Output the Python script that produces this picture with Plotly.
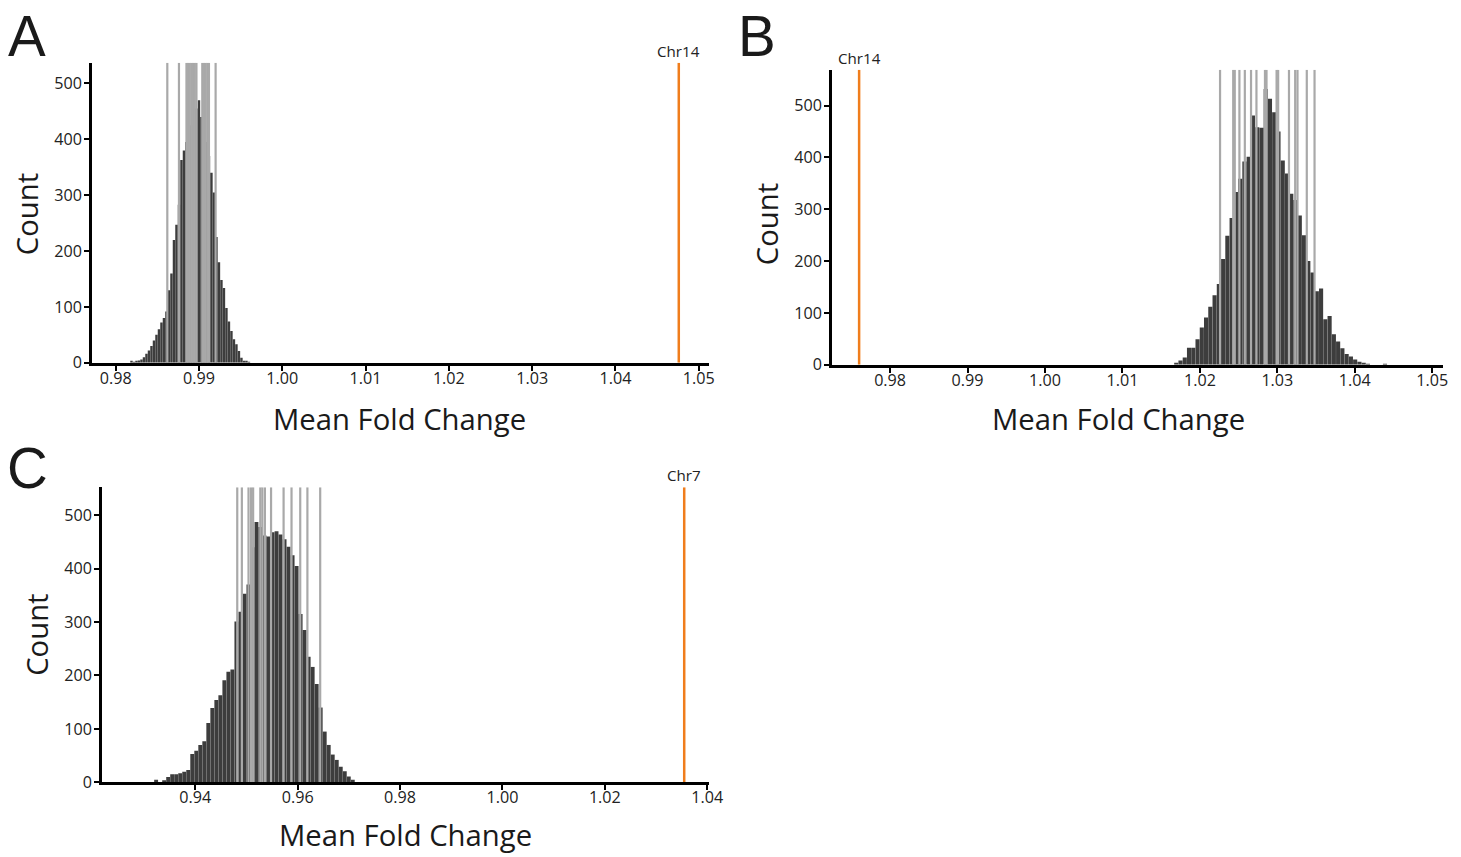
import plotly.graph_objects as go

W, H = 1461, 857
FONT = "Open Sans"
LETTER_FONT = "Liberation Sans"

# ---------------- data ----------------
# Panel A
a_bin_start = 0.98145
a_bin_width = 0.0003
a_counts = [0, 2, 1, 3, 4, 6, 10, 16, 22, 30, 40, 50, 60, 72, 80, 92, 130, 160, 220, 247,
            283, 363, 380, 395, 410, 425, 440, 455, 470, 440, 420, 395, 370, 340, 305, 225,
            180, 148, 134, 98, 74, 57, 42, 33, 21, 9, 3, 2, 1]
a_gray = [0.9862, 0.9876, 0.9885, 0.9887, 0.9889, 0.9891, 0.9893, 0.9895, 0.9897,
          0.9904, 0.9906, 0.9908, 0.9910, 0.9912, 0.9920]
a_orange = 1.0476
a_label = "Chr14"
a_xticks = [0.98, 0.99, 1.00, 1.01, 1.02, 1.03, 1.04, 1.05]

# Panel B
b_bin_start = 1.01667
b_bin_width = 0.00055
b_counts = [3, 8, 14, 33, 33, 49, 72, 91, 112, 134, 156, 204, 249, 283, 333, 359, 392, 401,
            481, 458, 457, 532, 513, 487, 450, 394, 369, 330, 318, 288, 250, 200, 178, 142,
            147, 88, 94, 59, 45, 32, 21, 16, 10, 6, 3, 1, 0, 0, 0, 1]
b_gray = [1.0226, 1.0243, 1.0245, 1.0251, 1.0258, 1.0266, 1.0273, 1.0284, 1.0286,
          1.0299, 1.0301, 1.0315, 1.0323, 1.0326, 1.0338, 1.0348]
b_orange = 0.9760
b_label = "Chr14"
b_xticks = [0.98, 0.99, 1.00, 1.01, 1.02, 1.03, 1.04, 1.05]

# Panel C
c_bin_start = 0.93196
c_bin_width = 0.000784
c_counts = [5, 0, 2, 10, 15, 15, 17, 20, 23, 53, 59, 70, 77, 111, 139, 154, 163, 191, 207, 211,
            301, 319, 353, 370, 440, 487, 478, 462, 460, 468, 470, 464, 455, 441, 425, 405,
            315, 285, 235, 216, 184, 140, 95, 70, 52, 42, 29, 21, 11, 5]
c_gray = [0.9482, 0.9491, 0.9504, 0.9509, 0.9513, 0.9527, 0.9531, 0.9536, 0.9548,
          0.95725, 0.9588, 0.9605, 0.9619, 0.9644]
c_orange = 1.0355
c_label = "Chr7"
c_xticks = [0.94, 0.96, 0.98, 1.00, 1.02, 1.04]

y_ticks = [0, 100, 200, 300, 400, 500]

# ---------------- layout geometry (target pixels) ----------------
K = 0.9905  # rendered picture comes out ~1% smaller; place things accordingly


def fx(px):
    return (px + 1.0) / K / W


def fy(py):
    return 1 - (py / K) / H


def fs(size):
    return size / K


panels = [
    dict(ax="", counts=a_counts, start=a_bin_start, bw=a_bin_width, gray=a_gray,
         orange=a_orange, label=a_label, xticks=a_xticks,
         xpx=(91, 708), ypx=(364, 63), xr=(0.97716, 1.05122), ytop=537,
         letter="A", letter_px=(26, 4), ytitle_px=(26, 215), xtitle_px=(399, 420)),
    dict(ax="2", counts=b_counts, start=b_bin_start, bw=b_bin_width, gray=b_gray,
         orange=b_orange, label=b_label, xticks=b_xticks,
         xpx=(831, 1442), ypx=(366, 70), xr=(0.97249, 1.05137), ytop=569,
         letter="B", letter_px=(756, 4), ytitle_px=(766, 225), xtitle_px=(1118, 420)),
    dict(ax="3", counts=c_counts, start=c_bin_start, bw=c_bin_width, gray=c_gray,
         orange=c_orange, label=c_label, xticks=c_xticks,
         xpx=(101, 708), ypx=(785, 489), xr=(0.92178, 1.04033), ytop=552,
         letter="C", letter_px=(27, 437), ytitle_px=(36, 637), xtitle_px=(405, 838)),
]

fig = go.Figure()
annotations = []
layout_axes = {}

for p in panels:
    xa = "x" + p["ax"]
    ya = "y" + p["ax"]
    centers = [p["start"] + p["bw"] * (i + 0.5) for i in range(len(p["counts"]))]
    fig.add_trace(go.Bar(x=centers, y=p["counts"], width=p["bw"] * 0.97,
                         marker=dict(color="#3d3d3d", line=dict(width=0)),
                         xaxis=xa, yaxis=ya, showlegend=False, hoverinfo="skip"))
    gx, gy = [], []
    for v in p["gray"]:
        gx += [v, v, None]
        gy += [0, p["ytop"], None]
    fig.add_trace(go.Scatter(x=gx, y=gy, mode="lines",
                             line=dict(color="#a9a9a9", width=2.2),
                             xaxis=xa, yaxis=ya, showlegend=False, hoverinfo="skip"))
    fig.add_trace(go.Scatter(x=[p["orange"], p["orange"]], y=[0, p["ytop"]], mode="lines",
                             line=dict(color="#f07d1c", width=2.5),
                             xaxis=xa, yaxis=ya, showlegend=False, hoverinfo="skip"))
    annotations.append(dict(x=p["orange"], y=p["ytop"], xref=xa, yref=ya, text=p["label"],
                            showarrow=False, yanchor="bottom", yshift=0,
                            font=dict(family=FONT, size=fs(15), color="#222")))

    common = dict(showline=True, linecolor="black", linewidth=2.5, ticks="outside",
                  ticklen=5, tickwidth=1.5, tickcolor="black", showgrid=False,
                  zeroline=False, tickfont=dict(family=FONT, size=fs(16), color="#222"),
                  fixedrange=True)
    xkey = "xaxis" + p["ax"]
    ykey = "yaxis" + p["ax"]
    layout_axes[xkey] = dict(common, domain=[fx(p["xpx"][0]), fx(p["xpx"][1])],
                             range=list(p["xr"]), tickvals=p["xticks"],
                             ticktext=[f"{v:.2f}" for v in p["xticks"]],
                             anchor=ya, ticklabelstandoff=-6)
    layout_axes[ykey] = dict(common, domain=[fy(p["ypx"][0]), fy(p["ypx"][1])],
                             range=[0, p["ytop"]], tickvals=y_ticks,
                             anchor=xa, ticklabelstandoff=-1)

    annotations.append(dict(x=fx(p["letter_px"][0]), y=fy(p["letter_px"][1]),
                            xref="paper", yref="paper", text=p["letter"], showarrow=False,
                            xanchor="center", yanchor="top", borderpad=0,
                            font=dict(family=LETTER_FONT, size=fs(56), color="#1a1a1a")))
    annotations.append(dict(x=fx(p["ytitle_px"][0]), y=fy(p["ytitle_px"][1]),
                            xref="paper", yref="paper", text="Count", showarrow=False,
                            textangle=-90, xanchor="center", yanchor="middle",
                            font=dict(family=FONT, size=fs(29), color="#1a1a1a")))
    annotations.append(dict(x=fx(p["xtitle_px"][0]), y=fy(p["xtitle_px"][1]),
                            xref="paper", yref="paper", text="Mean Fold Change",
                            showarrow=False, xanchor="center", yanchor="middle",
                            font=dict(family=FONT, size=fs(29), color="#1a1a1a")))

fig.update_layout(width=W, height=H, margin=dict(l=0, r=0, t=0, b=0),
                  paper_bgcolor="white", plot_bgcolor="white", barmode="overlay",
                  annotations=annotations, showlegend=False, **layout_axes)

fig.write_html("out.html")
